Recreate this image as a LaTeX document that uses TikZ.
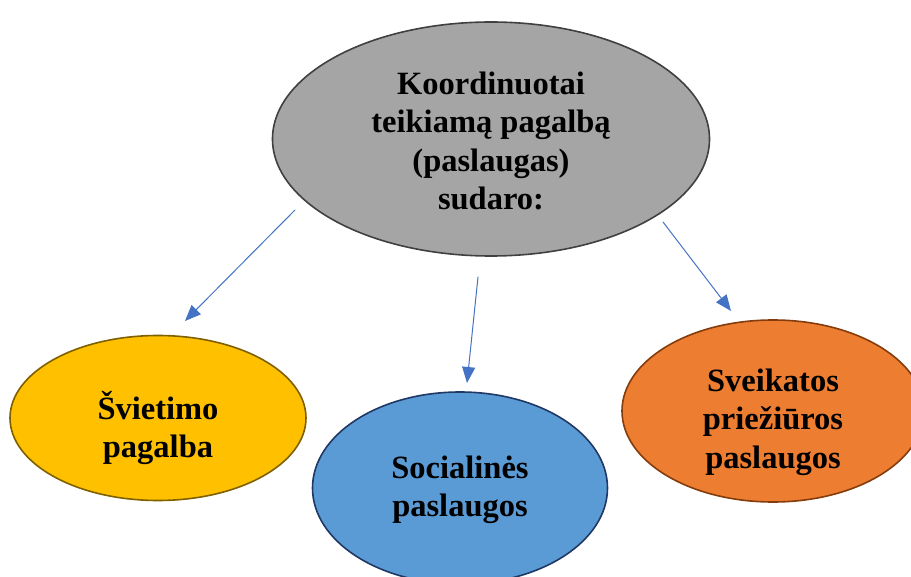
\documentclass[tikz,border=0pt]{standalone}
\usepackage{fontspec}
\setmainfont{Liberation Serif}
\usetikzlibrary{shapes.geometric,arrows.meta}
\definecolor{pilka}{HTML}{A5A5A5}
\definecolor{pilkakr}{HTML}{404040}
\definecolor{geltona}{HTML}{FFC000}
\definecolor{geltonakr}{HTML}{7F6000}
\definecolor{melyna}{HTML}{5B9BD5}
\definecolor{melynakr}{HTML}{203864}
\definecolor{oranzine}{HTML}{ED7D31}
\definecolor{oranzinekr}{HTML}{843C0C}
\definecolor{rodykle}{HTML}{4472C4}
\begin{document}
\begin{tikzpicture}[x=1pt,y=-1pt,line join=round,line cap=round,
	font=\fontsize{32.5}{38.5}\selectfont\bfseries,
	burbulas/.style={ellipse,draw,line width=1.6pt,inner sep=0pt},
	tekstas/.style={align=center,inner sep=0pt},
	rod/.style={draw=rodykle,line width=1pt,-{Triangle[length=16pt,width=13pt]}}]
	\useasboundingbox (0,0) rectangle (911,577);
	\clip (0,0) rectangle (911,577);
	% virsutinis burbulas
	\node[burbulas,fill=pilka,draw=pilkakr,minimum width=437pt,minimum height=234pt] (virsus) at (491,139) {};
	\node[tekstas] (virsusT) at (491,141) {Koordinuotai\\teikiamą pagalbą\\(paslaugas)\\sudaro:};
	% apatiniai burbulai
	\node[burbulas,fill=geltona,draw=geltonakr,minimum width=296pt,minimum height=165pt] (svietimas) at (158,418) {};
	\node[tekstas] (svietimasT) at (158,428) {Švietimo\\pagalba};
	\node[burbulas,fill=melyna,draw=melynakr,minimum width=295pt,minimum height=192pt] (socialines) at (460,488) {};
	\node[tekstas] (socialinesT) at (460,490) {Socialinės\\paslaugos};
	\node[burbulas,fill=oranzine,draw=oranzinekr,minimum width=302pt,minimum height=182pt] (sveikata) at (773,411) {};
	\node[tekstas] (sveikataT) at (773,422) {Sveikatos\\priežiūros\\paslaugos};
	% rodykles
	\coordinate (k1) at (295,210);
	\coordinate (k2) at (185,321);
	\coordinate (v1) at (478,277);
	\coordinate (v2) at (467,383);
	\coordinate (d1) at (663,222);
	\coordinate (d2) at (731,311);
	\draw[rod] (k1) -- (k2);
	\draw[rod] (v1) -- (v2);
	\draw[rod] (d1) -- (d2);
\end{tikzpicture}
\end{document}
